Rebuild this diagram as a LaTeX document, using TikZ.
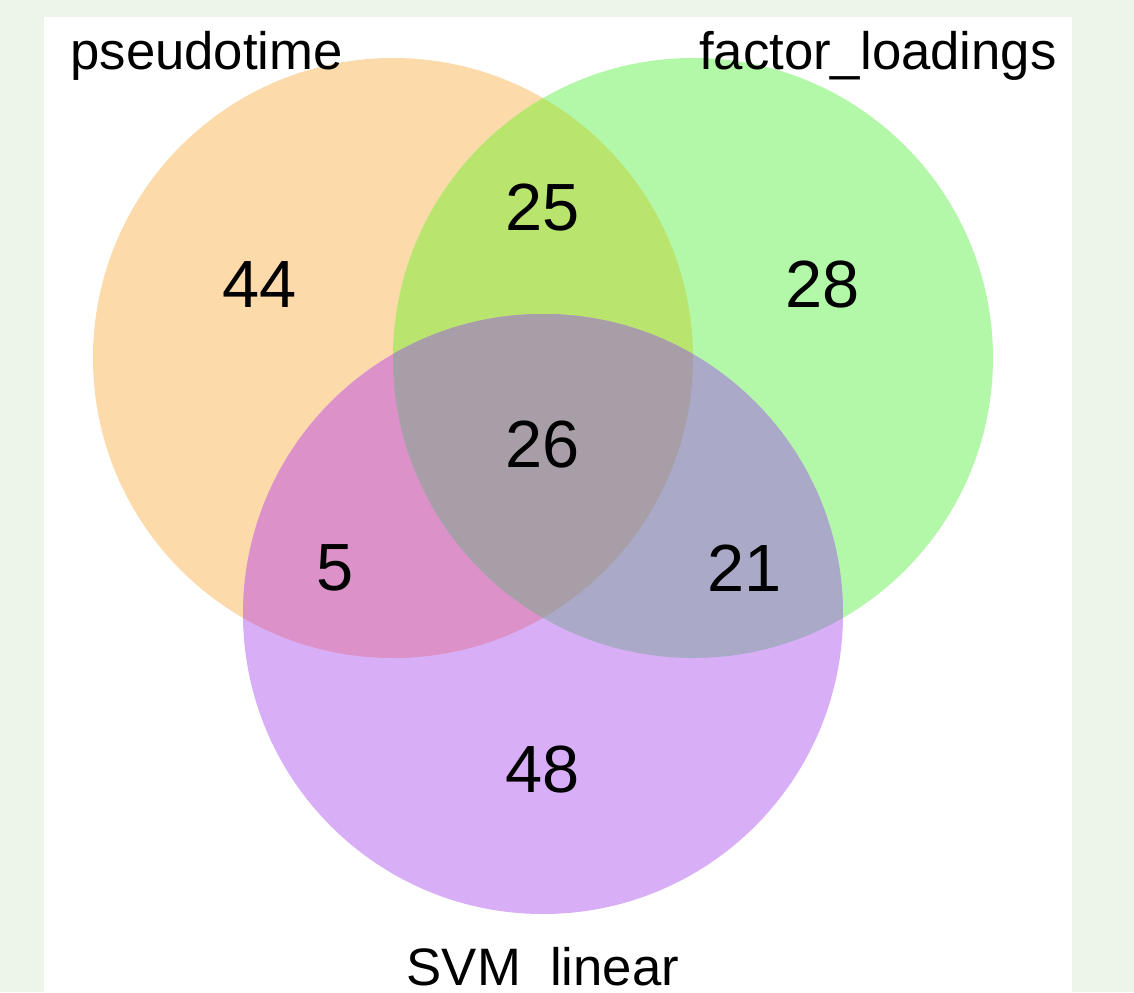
\documentclass[tikz,border=0pt]{standalone}
\usepackage{fontspec}
\setmainfont{Liberation Sans}
\definecolor{pagebg}{RGB}{237,245,234}
\definecolor{cO}{RGB}{253,218,170}
\definecolor{cG}{RGB}{179,248,168}
\definecolor{cP}{RGB}{216,174,246}
\definecolor{cOG}{RGB}{185,228,110}
\definecolor{cOP}{RGB}{220,146,200}
\definecolor{cGP}{RGB}{170,170,200}
\definecolor{cOGP}{RGB}{168,158,168}
\tikzset{
  setlabel/.style={font=\fontsize{30}{30}\selectfont, inner sep=0pt},
  count/.style={font=\fontsize{38}{38}\selectfont, inner sep=0pt}
}
\begin{document}
\begin{tikzpicture}[x=0.02cm,y=-0.02cm]
\useasboundingbox (0,0) rectangle (1134,992);
\fill[pagebg] (0,0) rectangle (1134,992);
\fill[white] (44,17) rectangle (1072,992);
% circles
\def\rr{300}
\coordinate (cOc) at (393,358);
\coordinate (cGc) at (693,358);
\coordinate (cPc) at (543,614);
\fill[cO] (cOc) circle[radius=\rr];
\fill[cG] (cGc) circle[radius=\rr];
\fill[cP] (cPc) circle[radius=\rr];
\begin{scope}
  \clip (cOc) circle[radius=\rr];
  \fill[cOG] (cGc) circle[radius=\rr];
  \fill[cOP] (cPc) circle[radius=\rr];
\end{scope}
\begin{scope}
  \clip (cGc) circle[radius=\rr];
  \fill[cGP] (cPc) circle[radius=\rr];
\end{scope}
\begin{scope}
  \clip (cOc) circle[radius=\rr];
  \clip (cGc) circle[radius=\rr];
  \fill[cOGP] (cPc) circle[radius=\rr];
\end{scope}
% labels
\node[setlabel, anchor=base west] (lO) at (70,69) {pseudotime};
\node[setlabel, anchor=base east] (lG) at (1057,69) {factor\_loadings};
\node[setlabel, anchor=base] (lP) at (543,985) {SVM\makebox[0.556em]{}linear};
% counts
\node[count] (n44) at (260,285) {44};
\node[count] (n25) at (543,208) {25};
\node[count] (n28) at (823,285) {28};
\node[count] (n26) at (543,445) {26};
\node[count] (n5) at (335,568) {5};
\node[count] (n21) at (745,568) {21};
\node[count] (n48) at (543,770) {48};
\end{tikzpicture}
\end{document}
